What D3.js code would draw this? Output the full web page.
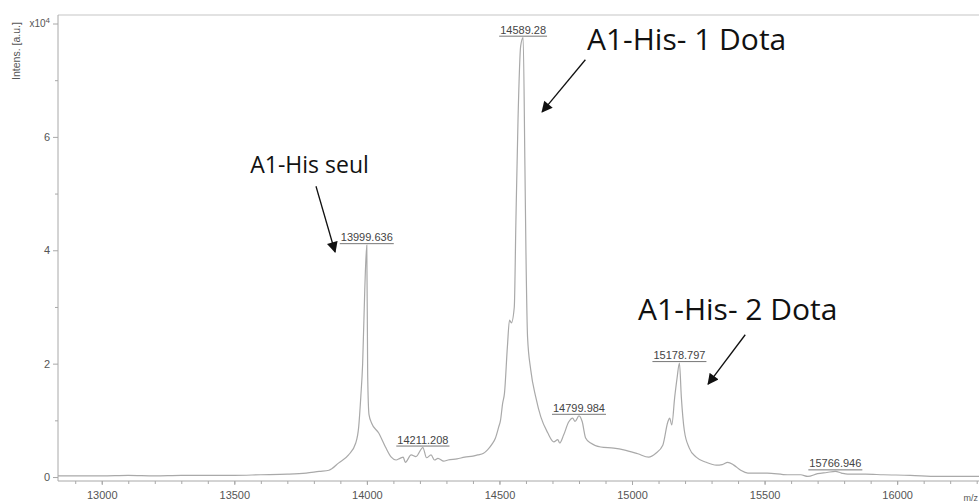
<!DOCTYPE html>
<html lang="fr">
<head>
  <meta charset="UTF-8">
  <title>Spectre MALDI A1-His</title>
  <script src="https://d3js.org/d3.v7.min.js"></script>
  <style>
    body { margin: 0; background: #fff; }
    #chart { width: 979px; height: 503px; overflow: hidden; }
    .axis text { font-family: "Liberation Sans", Arial, sans-serif; font-size: 11px; fill: #555; }
    .axis path, .axis line { stroke: #a8a8a8; }
    .peak-label { font-family: "Liberation Sans", Arial, sans-serif; font-size: 11px; fill: #444; }
    .annot { font-family: "Open Sans", sans-serif; fill: #111; }
  </style>
</head>
<body>
  <div id="chart"></div>
  <script>
    // spectrum: m/z and intensity (x10^4 a.u.)
    const mz = [12835, 12900, 13000, 13100, 13200, 13300, 13400, 13500, 13600, 13700,
      13771, 13820, 13857, 13894, 13931, 13958, 13969, 13977, 13984, 13992,
      13999.6, 14003, 14008, 14018, 14044, 14070, 14092, 14110, 14125, 14137,
      14145, 14167, 14185, 14211.2, 14225, 14242, 14255, 14268, 14290, 14306,
      14340, 14369, 14400, 14418, 14440, 14455, 14472, 14485, 14497, 14504,
      14512, 14519, 14530, 14538, 14545, 14556, 14562, 14570, 14580, 14589.3,
      14596, 14600, 14606, 14618, 14637, 14656, 14682, 14705, 14720, 14727,
      14742, 14761, 14776, 14785, 14800, 14812, 14825, 14844, 14882, 14931,
      14969, 15022, 15063, 15090, 15116, 15135, 15142, 15150, 15161, 15170,
      15178.8, 15186, 15197, 15216, 15242, 15280, 15318, 15340, 15361, 15384,
      15410, 15437, 15510, 15586, 15636, 15663, 15700, 15735, 15766.9, 15790,
      15813, 15880, 15948, 16050, 16152, 16310];
    const intensity = [0.02, 0.02, 0.02, 0.03, 0.02, 0.03, 0.03, 0.03, 0.04, 0.05,
      0.07, 0.10, 0.12, 0.25, 0.39, 0.60, 0.88, 1.41, 2.00, 3.30,
      4.09, 1.80, 1.10, 0.95, 0.78, 0.53, 0.35, 0.30, 0.33, 0.35,
      0.26, 0.39, 0.36, 0.52, 0.34, 0.39, 0.30, 0.33, 0.28, 0.30,
      0.32, 0.35, 0.37, 0.39, 0.42, 0.48, 0.58, 0.69, 0.88, 1.00,
      1.30, 1.48, 2.30, 2.77, 2.72, 3.00, 4.50, 6.30, 7.60, 7.75,
      5.50, 3.95, 2.47, 1.89, 1.41, 1.06, 0.78, 0.62, 0.66, 0.60,
      0.74, 0.97, 1.04, 0.98, 1.08, 0.98, 0.69, 0.60, 0.53, 0.51,
      0.48, 0.41, 0.35, 0.42, 0.56, 0.97, 1.04, 0.92, 1.41, 1.75,
      2.01, 1.41, 0.83, 0.51, 0.35, 0.26, 0.21, 0.22, 0.26, 0.21,
      0.12, 0.07, 0.07, 0.04, 0.04, 0.01, 0.06, 0.08, 0.10, 0.07,
      0.05, 0.05, 0.04, 0.03, 0.01, 0.01];

    const peakMz = [13999.6, 14211.2, 14589.3, 14800, 15178.8, 15766.9];
    const peakInt = [4.09, 0.52, 7.75, 1.08, 2.01, 0.10];
    const peakText = ['13999.636', '14211.208', '14589.28', '14799.984', '15178.797', '15766.946'];

    const xTicks = [13000, 13500, 14000, 14500, 15000, 15500, 16000];
    const yTicks = [0, 2, 4, 6, 8];

    // annotations: text anchor, arrow start, arrow tip (m/z, intensity)
    const annText = ['A1-His seul', 'A1-His- 1 Dota', 'A1-His- 2 Dota'];
    const annSize = [23, 30, 30];
    const annPos = [[13560, 5.36], [14830, 7.53], [15023, 2.77]];
    const arrowFrom = [[13808, 5.13], [14824, 7.36], [15427, 2.51]];
    const arrowTo = [[13880, 3.97], [14661, 6.44], [15287, 1.64]];

    const W = 979, H = 503;
    const svg = d3.select('#chart').append('svg').attr('width', W).attr('height', H);

    const mLeft = 58, mTop = 15, mBottom = 481, mRight = 982;
    const x = d3.scaleLinear().domain([12835, 16320]).range([mLeft, mRight]);
    const y = d3.scaleLinear().domain([-0.07, 8.15]).range([mBottom, mTop]);

    svg.append('defs').append('marker')
      .attr('id', 'head').attr('viewBox', '0 0 10 10')
      .attr('refX', 9).attr('refY', 5)
      .attr('markerWidth', 12).attr('markerHeight', 11)
      .attr('markerUnits', 'userSpaceOnUse')
      .attr('orient', 'auto')
      .append('path').attr('d', 'M0,0 L10,5 L0,10 Z').attr('fill', '#111');

    // frame top
    svg.append('line').attr('x1', mLeft).attr('x2', W).attr('y1', mTop).attr('y2', mTop)
      .attr('stroke', '#e2e2e2').attr('stroke-width', 2);

    // x axis
    const xMinor = d3.range(12900, 16301, 100);
    svg.append('g').attr('class', 'axis')
      .attr('transform', `translate(0,${mBottom})`)
      .call(d3.axisBottom(x).tickValues(xMinor).tickSize(3).tickFormat(''))
      .call(g => g.select('.domain').remove());
    svg.append('g').attr('class', 'axis')
      .attr('transform', `translate(0,${mBottom})`)
      .call(d3.axisBottom(x).tickValues(xTicks).tickSize(4).tickPadding(6).tickFormat(d3.format('d')))
      .call(g => g.select('.domain').attr('d', `M${mLeft},0H${W}`));

    // y axis
    svg.append('g').attr('class', 'axis')
      .attr('transform', `translate(${mLeft},0)`)
      .call(d3.axisLeft(y).tickValues([1, 3, 5, 7]).tickSize(3).tickFormat(''))
      .call(g => g.select('.domain').remove());
    const yAx = svg.append('g').attr('class', 'axis')
      .attr('transform', `translate(${mLeft},0)`)
      .call(d3.axisLeft(y).tickValues(yTicks).tickSize(5).tickPadding(3).tickFormat(d => d === 8 ? '' : d))
      .call(g => g.select('.domain').attr('d', `M0,${mBottom}V${mTop}`));

    const sup = yAx.append('text').attr('x', -8).attr('y', y(8)).attr('dy', '0.35em')
      .attr('text-anchor', 'end').style('font-size', '10px');
    sup.append('tspan').text('x10');
    sup.append('tspan').attr('dy', '-4').style('font-size', '8px').text('4');

    svg.append('text')
      .attr('transform', `translate(20,${mTop + 36}) rotate(-90)`)
      .attr('text-anchor', 'middle')
      .style('font-family', '"Liberation Sans", Arial, sans-serif')
      .style('font-size', '10.5px').attr('fill', '#555')
      .text('Intens. [a.u.]');

    svg.append('text')
      .attr('x', x(16250)).attr('y', H - 2)
      .style('font-family', '"Liberation Sans", Arial, sans-serif')
      .style('font-size', '9px').attr('fill', '#555')
      .text('m/z');

    // spectrum
    const pts = mz.map((m, i) => [m, intensity[i]]);
    svg.append('path').datum(pts)
      .attr('fill', 'none').attr('stroke', '#a9a9a9').attr('stroke-width', 1.2)
      .attr('d', d3.line().x(d => x(d[0])).y(d => y(d[1])).curve(d3.curveMonotoneX));

    // peak labels with underline
    const pk = svg.append('g').selectAll('g').data(peakMz).join('g');
    pk.append('text').attr('class', 'peak-label')
      .attr('x', d => x(d)).attr('y', (d, i) => y(peakInt[i]) - 4)
      .attr('text-anchor', 'middle')
      .text((d, i) => peakText[i]);
    pk.each(function (d, i) {
      const t = d3.select(this).select('text').node().getBBox();
      d3.select(this).append('line')
        .attr('x1', t.x - 1).attr('x2', t.x + t.width + 1)
        .attr('y1', y(peakInt[i]) - 1.5).attr('y2', y(peakInt[i]) - 1.5)
        .attr('stroke', '#777').attr('stroke-width', 1);
    });

    // annotations
    annText.forEach((t, i) => {
      svg.append('text').attr('class', 'annot')
        .attr('x', x(annPos[i][0])).attr('y', y(annPos[i][1]))
        .style('font-size', annSize[i] + 'px')
        .text(t);
      svg.append('line')
        .attr('x1', x(arrowFrom[i][0])).attr('y1', y(arrowFrom[i][1]))
        .attr('x2', x(arrowTo[i][0])).attr('y2', y(arrowTo[i][1]))
        .attr('stroke', '#111').attr('stroke-width', 1.3)
        .attr('marker-end', 'url(#head)');
    });
  </script>
</body>
</html>
